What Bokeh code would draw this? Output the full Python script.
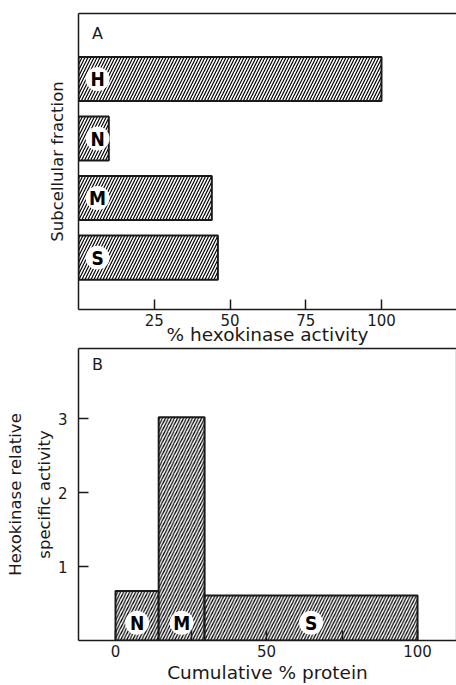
from bokeh.plotting import figure
from bokeh.models import Range1d, FixedTicker, LinearAxis, Label
from bokeh.layouts import column
from bokeh.embed import file_html
from bokeh.resources import INLINE
from bokeh.core.properties import value

# ---- Panel A data: % hexokinase activity per subcellular fraction ----
fractions = ["H", "N", "M", "S"]
activity_pct = [100, 10, 44, 46]
a_xticks = [25, 50, 75, 100]

# ---- Panel B data: relative specific activity vs cumulative protein ----
fractions_b = ["N", "M", "S"]
protein_pct = [14.3, 15.2, 70.5]
rel_specific_activity = [0.67, 3.02, 0.61]
b_xticks = [0, 25, 50, 75, 100]
b_xtick_labels = {0: "0", 25: "", 50: "50", 75: "", 100: "100"}
b_yticks = [1, 2, 3]

FONT = "DejaVu Sans"
BOLD_FONT = "DejaVu Sans Condensed"
INK = "#1a1a1a"


def style_axis(ax, ticks, label, label_size):
    ax.ticker = FixedTicker(ticks=ticks)
    ax.minor_tick_line_color = None
    ax.major_tick_in = 10
    ax.major_tick_out = 0
    ax.major_tick_line_color = INK
    ax.major_tick_line_width = 1.5
    ax.axis_line_color = INK
    ax.axis_line_width = 1.5
    ax.major_label_text_font = FONT
    ax.major_label_text_font_size = "15px"
    ax.major_label_text_color = INK
    ax.axis_label = label
    ax.axis_label_text_font = FONT
    ax.axis_label_text_font_size = label_size
    ax.axis_label_text_font_style = "normal"
    ax.axis_label_text_color = INK


def bare_axis(color):
    return LinearAxis(ticker=FixedTicker(ticks=[]), axis_line_color=color,
                      axis_line_width=1.5, major_tick_line_color=None,
                      minor_tick_line_color=None, major_tick_out=0,
                      major_tick_in=0, major_label_standoff=0,
                      axis_label_standoff=0,
                      major_label_text_font_size="0px")


# ================= Panel A =================
n = len(fractions)
ypos = [n - i for i in range(n)]

pa = figure(width=456, height=347, x_range=Range1d(0, 124.75),
            y_range=Range1d(0.129, 5.10), output_backend="svg",
            toolbar_location=None, min_border_left=78, min_border_right=0,
            min_border_top=13, min_border_bottom=0, outline_line_color=None)
pa.grid.visible = False

pa.hbar(y=ypos, left=0, right=activity_pct, height=0.74, fill_color="white",
        line_color=INK, line_width=2, hatch_pattern="/", hatch_color="black",
        hatch_scale=6, hatch_weight=1.2)

lab_x_a = [6.3] * n
pa.scatter(x=lab_x_a, y=ypos, size=24, marker="circle", fill_color="white",
           line_color=None)
pa.text(x=lab_x_a, y=ypos, text=fractions, text_align="center",
        text_baseline="middle", text_font=value(BOLD_FONT),
        text_font_style="bold", text_font_size="19px", text_color="black")

style_axis(pa.xaxis[0], a_xticks, "% hexokinase activity", "18.5px")
pa.xaxis[0].major_label_standoff = 4
pa.xaxis[0].axis_label_standoff = -5

style_axis(pa.yaxis[0], [], "Subcellular fraction", "16.5px")
pa.yaxis[0].axis_label_standoff = 12

pa.add_layout(bare_axis(INK), "above")
pa.add_layout(Label(x=6.3, y=4.77, text="A", text_font=FONT,
                    text_font_size="16px", text_align="center",
                    text_baseline="middle", text_color=INK))

# ================= Panel B =================
rights = []
acc = 0.0
for v in protein_pct:
    acc += v
    rights.append(acc)
lefts = [r - v for r, v in zip(rights, protein_pct)]
mids = [(l + r) / 2 for l, r in zip(lefts, rights)]

pb = figure(width=456, height=338, x_range=Range1d(-12.25, 112.9),
            y_range=Range1d(0, 3.95), output_backend="svg",
            toolbar_location=None, min_border_left=78, min_border_right=0,
            min_border_top=1, min_border_bottom=0, outline_line_color=None)
pb.grid.visible = False

pb.quad(left=lefts, right=rights, bottom=0, top=rel_specific_activity,
        fill_color="white", line_color=INK, line_width=2, hatch_pattern="/",
        hatch_color="#000001", hatch_scale=6.01, hatch_weight=1.21)

lab_y_b = [0.24] * len(fractions_b)
pb.scatter(x=mids, y=lab_y_b, size=24, marker="circle", fill_color="white",
           line_color=None)
pb.text(x=mids, y=lab_y_b, text=fractions_b, text_align="center",
        text_baseline="middle", text_font=value(BOLD_FONT),
        text_font_style="bold", text_font_size="19px", text_color="black")

style_axis(pb.xaxis[0], b_xticks, "Cumulative % protein", "18.5px")
pb.xaxis[0].major_label_overrides = b_xtick_labels
pb.xaxis[0].major_label_standoff = 4
pb.xaxis[0].axis_label_standoff = 2

style_axis(pb.yaxis[0], b_yticks, "Hexokinase relative\nspecific activity",
           "16.5px")
pb.yaxis[0].major_label_standoff = 11
pb.yaxis[0].axis_label_standoff = 1
pb.yaxis[0].axis_label_text_line_height = 1.55

pb.add_layout(bare_axis(INK), "above")
pb.add_layout(bare_axis("#888888"), "right")
pb.add_layout(Label(x=-6.0, y=3.74, text="B", text_font=FONT,
                    text_font_size="16px", text_align="center",
                    text_baseline="middle", text_color=INK))

layout = column(pa, pb, spacing=0)
open("out.html", "w").write(file_html(layout, INLINE))
